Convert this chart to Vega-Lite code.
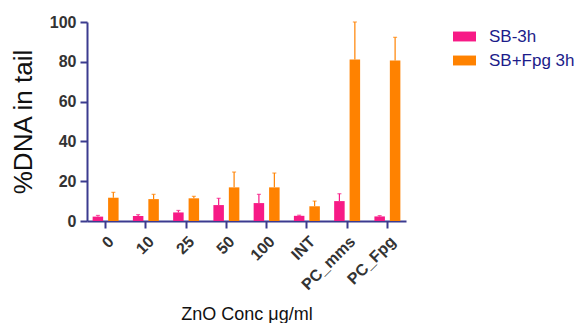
{
  "$schema": "https://vega.github.io/schema/vega-lite/v6.json",
  "width": 319,
  "height": 199,
  "autosize": "none",
  "padding": {"left": 87, "top": 22, "right": 171, "bottom": 102},
  "background": "white",
  "config": {
    "view": {"stroke": null},
    "font": "Liberation Sans",
    "axisY": {
      "titleFontSize": 26, "titleFontWeight": "normal", "titleColor": "#111", "titlePadding": 13,
      "grid": false, "labelOverlap": false,
      "labelFontSize": 16, "labelFontWeight": "bold", "labelColor": "#333", "labelPadding": 4,
      "domainColor": "#3b3b8f", "domainWidth": 2, "tickColor": "#3b3b8f", "tickWidth": 2, "tickSize": 7
    }
  },
  "data": {"values": [
    {"cat": "0", "series": "SB-3h", "value": 2.2, "upper": 2.8},
    {"cat": "0", "series": "SB+Fpg 3h", "value": 11.7, "upper": 14.4},
    {"cat": "10", "series": "SB-3h", "value": 2.5, "upper": 3.2},
    {"cat": "10", "series": "SB+Fpg 3h", "value": 11.0, "upper": 13.4},
    {"cat": "25", "series": "SB-3h", "value": 4.3, "upper": 5.3},
    {"cat": "25", "series": "SB+Fpg 3h", "value": 11.4, "upper": 12.4},
    {"cat": "50", "series": "SB-3h", "value": 8.0, "upper": 11.4},
    {"cat": "50", "series": "SB+Fpg 3h", "value": 16.9, "upper": 24.6},
    {"cat": "100", "series": "SB-3h", "value": 9.0, "upper": 13.4},
    {"cat": "100", "series": "SB+Fpg 3h", "value": 16.9, "upper": 24.1},
    {"cat": "INT", "series": "SB-3h", "value": 2.6, "upper": 2.9},
    {"cat": "INT", "series": "SB+Fpg 3h", "value": 7.4, "upper": 10.0},
    {"cat": "PC_mms", "series": "SB-3h", "value": 10.0, "upper": 13.7},
    {"cat": "PC_mms", "series": "SB+Fpg 3h", "value": 81.2, "upper": 100},
    {"cat": "PC_Fpg", "series": "SB-3h", "value": 2.3, "upper": 2.7},
    {"cat": "PC_Fpg", "series": "SB+Fpg 3h", "value": 80.6, "upper": 92.3}
  ]},
  "encoding": {
    "x": {
      "field": "cat", "type": "nominal", "sort": null,
      "scale": {"paddingInner": 0.355, "paddingOuter": 0.14},
      "axis": {
        "title": "ZnO Conc μg/ml", "titleFontSize": 18, "titleFontWeight": "normal", "titleColor": "#111",
        "titleY": 98, "titleBaseline": "alphabetic",
        "labelAngle": -45, "labelFontSize": 16, "labelFontWeight": "bold", "labelColor": "#333",
        "labelPadding": 5, "labelOverlap": false,
        "domainColor": "#3b3b8f", "domainWidth": 2, "tickColor": "#3b3b8f", "tickWidth": 2, "tickSize": 7
      }
    },
    "xOffset": {"field": "series", "type": "nominal", "sort": ["SB-3h", "SB+Fpg 3h"], "scale": {"paddingInner": 0.32}},
    "color": {
      "field": "series", "type": "nominal", "sort": ["SB-3h", "SB+Fpg 3h"],
      "scale": {"domain": ["SB-3h", "SB+Fpg 3h"], "range": ["#f71a86", "#ff8200"]},
      "legend": {
        "title": null, "orient": "none", "legendX": 366, "legendY": 3,
        "symbolType": "M-1,-0.43H1V0.43H-1Z", "symbolSize": 529, "symbolStrokeWidth": 0, "symbolOpacity": 1,
        "labelFontSize": 17, "labelColor": "#1c1c8a", "labelOffset": 13, "rowPadding": 4
      }
    }
  },
  "layer": [
    {
      "mark": {"type": "bar"},
      "encoding": {
        "y": {
          "field": "value", "type": "quantitative",
          "scale": {"domain": [0, 100], "nice": false},
          "axis": {"title": "%DNA in tail", "values": [0, 20, 40, 60, 80, 100]}
        }
      }
    },
    {
      "mark": {"type": "rule", "strokeWidth": 1.2},
      "encoding": {
        "y": {"field": "value", "type": "quantitative", "axis": {"title": "%DNA in tail", "values": [0, 20, 40, 60, 80, 100]}},
        "y2": {"field": "upper"}
      }
    },
    {
      "mark": {"type": "tick", "size": 4, "thickness": 1.2},
      "encoding": {
        "y": {"field": "upper", "type": "quantitative", "axis": {"title": "%DNA in tail", "values": [0, 20, 40, 60, 80, 100]}}
      }
    }
  ]
}
